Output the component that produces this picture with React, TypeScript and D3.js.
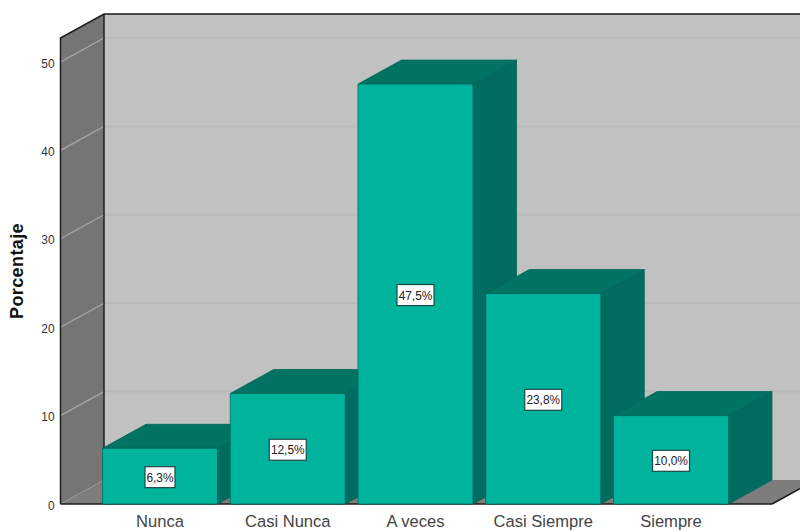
import React from "react";
import * as d3 from "d3";

const categories = ["Nunca", "Casi Nunca", "A veces", "Casi Siempre", "Siempre"];
const values = [6.3, 12.5, 47.5, 23.8, 10.0];
const labels = ["6,3%", "12,5%", "47,5%", "23,8%", "10,0%"];
const yTicks = [0, 10, 20, 30, 40, 50];

const W = 800, H = 531;
const DX = 43.5, DY = -24;
const floorY = 504;
const wallX = 60.5;
const topY = 38;
const floorRight = 772;

const y = d3.scaleLinear().domain([0, 50]).range([floorY, 62]);
const x = d3.scaleBand<string>().domain(categories).range([102.5, 728.5]).paddingInner(0.1).paddingOuter(0);

const poly = (pts: [number, number][]) => d3.line()(pts) + "Z";

export default function App() {
  const bw = x.bandwidth();
  return (
    <svg width={W} height={H} viewBox={`0 0 ${W} ${H}`} style={{ position: "absolute", left: 0, top: 0, fontFamily: "'Liberation Sans', Arial, sans-serif" }}>
      <rect width={W} height={H} fill="#fff" />
      {/* back wall */}
      <path d={poly([[wallX + DX, topY + DY], [W + 2, topY + DY], [W + 2, floorY + DY], [wallX + DX, floorY + DY]])} fill="#c1c1c1" />
      {/* floor */}
      <path d={poly([[wallX, floorY], [wallX + DX, floorY + DY], [floorRight + DX, floorY + DY], [floorRight, floorY]])} fill="#7d7d7d" />
      {/* left wall */}
      <path d={poly([[wallX, topY], [wallX + DX, topY + DY], [wallX + DX, floorY + DY], [wallX, floorY]])} fill="#757575" />
      {/* gridlines */}
      {yTicks.map(t => (
        <g key={t}>
          {t > 0 && <line x1={wallX} x2={wallX + DX} y1={y(t)} y2={y(t) + DY} stroke="#a8a8a8" strokeWidth={1.3} />}
          {t > 0 && <line x1={wallX + DX} x2={W} y1={y(t) + DY} y2={y(t) + DY} stroke="#b9b9b9" strokeWidth={1.6} />}
        </g>
      ))}
      {/* frame */}
      <path d={`M${wallX},${floorY}L${wallX},${topY}L${wallX + DX},${topY + DY}L${W},${topY + DY}`} fill="none" stroke="#1c1c1c" strokeWidth={1.5} />
      <line x1={wallX + DX} x2={wallX + DX} y1={topY + DY} y2={floorY + DY} stroke="#1c1c1c" strokeWidth={1.5} />
      <line x1={wallX} x2={wallX + DX} y1={floorY} y2={floorY + DY} stroke="#a0a0a0" strokeWidth={1} strokeDasharray="1.5 1.5" />
      <line x1={wallX} x2={floorRight} y1={floorY} y2={floorY} stroke="#1c1c1c" strokeWidth={1.5} />
      <line x1={floorRight} x2={floorRight + DX} y1={floorY} y2={floorY + DY} stroke="#1c1c1c" strokeWidth={1.5} />
      {/* y tick labels */}
      {yTicks.map(t => (
        <text key={t} transform={`translate(54.5,${y(t) + 2}) scale(0.88,1)`} textAnchor="end" dominantBaseline="middle" fontSize={13.5} fill="#333">{t}</text>
      ))}
      <text transform={`translate(18.5,271) rotate(-90)`} textAnchor="middle" dominantBaseline="middle" fontSize={18} letterSpacing={0.4} fontWeight="bold" fill="#111">Porcentaje</text>
      {/* bars */}
      {categories.map((c, i) => {
        const x0 = x(c)!, x1 = x0 + bw, yt = y(values[i]), yb = floorY;
        return (
          <g key={c} stroke="#00665a" strokeWidth={0.8} strokeLinejoin="round">
            <path d={poly([[x1, yt], [x1 + DX, yt + DY], [x1 + DX, yb + DY], [x1, yb]])} fill="#006b5f" />
            <path d={poly([[x0, yt], [x0 + DX, yt + DY], [x1 + DX, yt + DY], [x1, yt]])} fill="#007363" />
            <rect x={x0} y={yt} width={bw} height={yb - yt} fill="#00b39d" />
          </g>
        );
      })}
      {/* value labels */}
      {categories.map((c, i) => {
        const cx = x(c)! + bw / 2, cy = (y(values[i]) + floorY) / 2 + 1;
        const w = labels[i].length > 4 ? 37 : 30;
        return (
          <g key={c}>
            <rect x={cx - w / 2} y={cy - 10.5} width={w} height={21} fill="#fff" stroke="#1a4a44" strokeWidth={1.2} />
            <text transform={`translate(${cx},${cy + 1}) scale(0.88,1)`} textAnchor="middle" dominantBaseline="middle" fontSize={13.5} fill="#222">{labels[i]}</text>
          </g>
        );
      })}
      {/* category labels */}
      {categories.map(c => (
        <text key={c} transform={`translate(${x(c)! + bw / 2},526.5) scale(0.975,1)`} textAnchor="middle" fontSize={17} fill="#444">{c}</text>
      ))}
    </svg>
  );
}
